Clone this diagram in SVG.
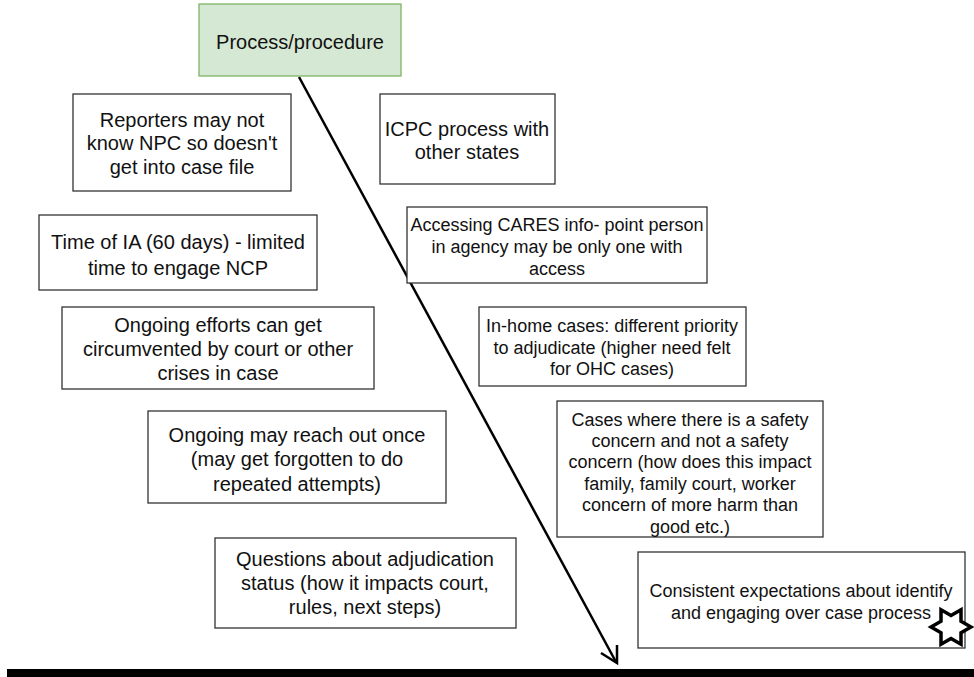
<svg xmlns="http://www.w3.org/2000/svg" width="974" height="677" viewBox="0 0 974 677">
<style>
.b{fill:#fff;stroke:#333;stroke-width:1.3}
.t{font-family:"Liberation Sans",Arial,sans-serif;font-size:20px;fill:#111;text-anchor:middle}
.s{font-size:18px}
</style>
<rect width="974" height="677" fill="#fff"/>
<g id="connectors">
<line x1="299" y1="77" x2="616" y2="662" stroke="#000" stroke-width="2.5"/>
<path d="M601,653 L617,663 L617,645" fill="none" stroke="#000" stroke-width="2.5"/>
</g>
<g id="bar"><rect x="7" y="669" width="967" height="8" fill="#000"/></g>
<g id="process"><rect x="199" y="4" width="202" height="72" fill="#d5e8d4" stroke="#82b366" stroke-width="1.3"/><text class="t" x="300" y="49">Process/procedure</text></g>
<g id="reporters"><rect class="b" x="73" y="94" width="218" height="97"/><text class="t"><tspan x="182" y="127">Reporters may not</tspan><tspan x="182" y="150">know NPC so doesn't</tspan><tspan x="182" y="174">get into case file</tspan></text></g>
<g id="timeia"><rect class="b" x="39" y="215" width="278" height="75"/><text class="t"><tspan x="178" y="249">Time of IA (60 days) - limited</tspan><tspan x="178" y="275">time to engage NCP</tspan></text></g>
<g id="efforts"><rect class="b" x="62" y="307" width="312" height="82"/><text class="t"><tspan x="218" y="332">Ongoing efforts can get</tspan><tspan x="218" y="356">circumvented by court or other</tspan><tspan x="218" y="380">crises in case</tspan></text></g>
<g id="reach"><rect class="b" x="148" y="411" width="298" height="92"/><text class="t"><tspan x="297" y="442">Ongoing may reach out once</tspan><tspan x="297" y="466">(may get forgotten to do</tspan><tspan x="297" y="491">repeated attempts)</tspan></text></g>
<g id="questions"><rect class="b" x="215" y="538" width="301" height="90"/><text class="t"><tspan x="365" y="566">Questions about adjudication</tspan><tspan x="365" y="590">status (how it impacts court,</tspan><tspan x="365" y="614">rules, next steps)</tspan></text></g>
<g id="icpc"><rect class="b" x="380" y="94" width="175" height="90"/><text class="t"><tspan x="467" y="136">ICPC process with</tspan><tspan x="467" y="159">other states</tspan></text></g>
<g id="cares"><rect class="b" x="407" y="207" width="300" height="76"/><text class="t s"><tspan x="557" y="231">Accessing CARES info- point person</tspan><tspan x="557" y="253">in agency may be only one with</tspan><tspan x="557" y="275">access</tspan></text></g>
<g id="inhome"><rect class="b" x="479" y="307" width="267" height="79"/><text class="t s"><tspan x="612" y="332">In-home cases: different priority</tspan><tspan x="612" y="354">to adjudicate (higher need felt</tspan><tspan x="612" y="375">for OHC cases)</tspan></text></g>
<g id="safety"><rect class="b" x="557" y="401" width="266" height="136"/><text class="t s"><tspan x="690" y="426">Cases where there is a safety</tspan><tspan x="690" y="447">concern and not a safety</tspan><tspan x="690" y="468">concern (how does this impact</tspan><tspan x="690" y="490">family, family court, worker</tspan><tspan x="690" y="511">concern of more harm than</tspan><tspan x="690" y="533">good etc.)</tspan></text></g>
<g id="consistent"><rect class="b" x="638" y="552" width="327" height="96"/><text class="t s"><tspan x="801" y="597">Consistent expectations about identify</tspan><tspan x="801" y="619">and engaging over case process</tspan></text></g>
<g id="star"><path d="M971,627 L961,632.8 L961,644.3 L951,638.5 L941,644.3 L941,632.8 L931,627 L941,621.2 L941,609.7 L951,615.5 L961,609.7 L961,621.2 Z" fill="#fff" stroke="#000" stroke-width="3.5" stroke-linejoin="miter"/></g>
</svg>
